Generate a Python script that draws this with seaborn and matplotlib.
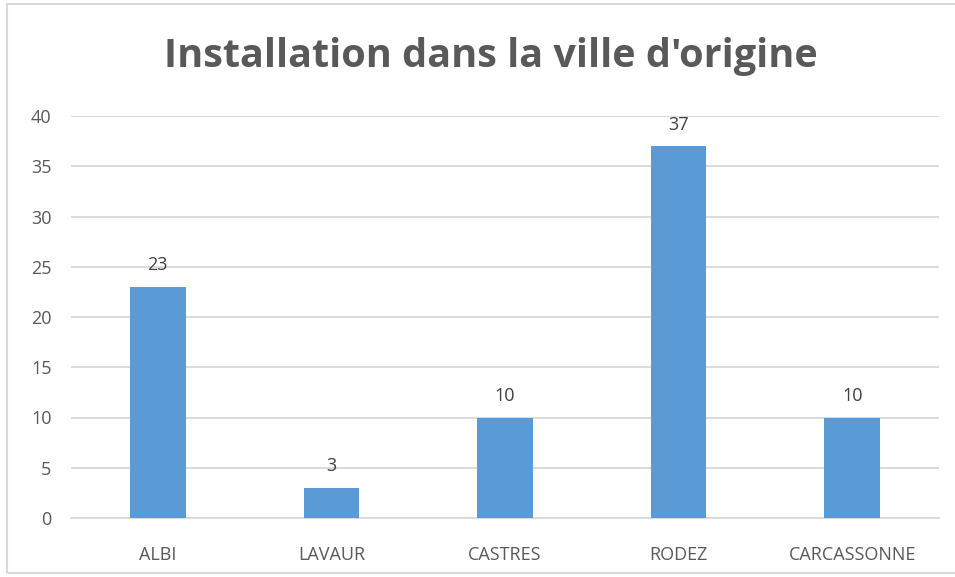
import matplotlib
matplotlib.use('Agg')
import matplotlib.pyplot as plt
import seaborn as sns
import pandas as pd
from matplotlib.patches import Rectangle

# donnees
villes = ['ALBI', 'LAVAUR', 'CASTRES', 'RODEZ', 'CARCASSONNE']
effectifs = [23, 3, 10, 37, 10]
graduations = [0, 5, 10, 15, 20, 25, 30, 35, 40]

df = pd.DataFrame({'ville': villes, 'n': effectifs})

sns.set_style('white')
plt.rcParams['font.family'] = ['Open Sans', 'DejaVu Sans']

fig = plt.figure(figsize=(9.55, 5.77), dpi=100)
ax = fig.add_axes([71/955, 1-518/577, (939-71)/955, (518-116)/577])

sns.barplot(data=df, x='ville', y='n', color='#5B9BD5', width=0.32,
            saturation=1, linewidth=0, ax=ax, zorder=3)

ax.set_ylim(0, 40)
ax.set_yticks(graduations)
ax.yaxis.grid(True, color='#D9D9D9', linewidth=1.3, zorder=0)
ax.set_axisbelow(True)
for s in ['top', 'right', 'left']:
    ax.spines[s].set_visible(False)
ax.spines['bottom'].set_color('#D9D9D9')
ax.spines['bottom'].set_linewidth(1.3)
ax.tick_params(axis='both', length=0, labelsize=13, labelcolor='#595959')
ax.tick_params(axis='y', pad=14)
ax.tick_params(axis='x', pad=20)
ax.set_xlabel('')
ax.set_ylabel('')

# etiquettes de valeurs
for c in ax.containers:
    ax.bar_label(c, padding=9, fontsize=13, color='#404040')

fig.text(0.5135, 1-56/577, "Installation dans la ville d'origine", ha='center', va='center',
         fontsize=28.5, fontweight='bold', color='#595959')

# cadre du graphique
fig.patches.append(Rectangle((7/955, 4/577), 950/955, 569/577, transform=fig.transFigure,
                             fill=False, edgecolor='#D9D9D9', linewidth=1.5))

fig.savefig('out.png', dpi=100)
